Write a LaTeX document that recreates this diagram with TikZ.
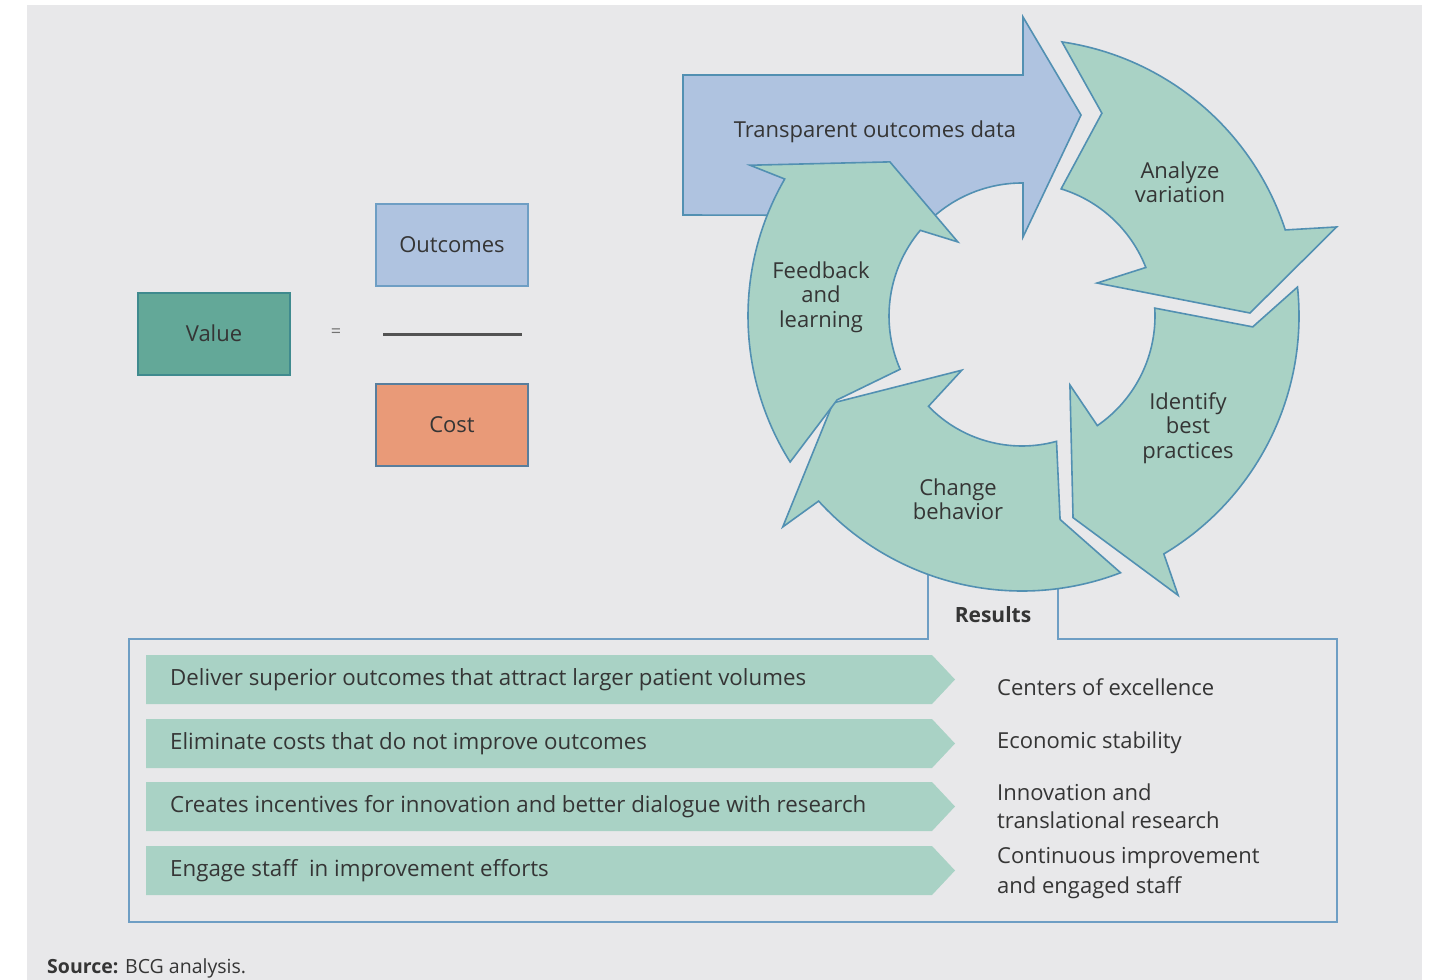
\documentclass[tikz,border=0pt]{standalone}
\usepackage{fontspec}
\setmainfont{Open Sans}
\definecolor{panel}{HTML}{E8E8EA}
\definecolor{mint}{HTML}{A9D2C5}
\definecolor{edgeblue}{HTML}{5290B2}
\definecolor{dataBlue}{HTML}{AFC3E0}
\definecolor{valueGreen}{HTML}{63A898}
\definecolor{valueEdge}{HTML}{3F8A8E}
\definecolor{costOrange}{HTML}{E99A78}
\definecolor{frameBlue}{HTML}{6E9EC4}
\definecolor{ink}{HTML}{353535}
\tikzset{
  txt/.style={text=ink, inner sep=0pt, font=\fontsize{22}{24.5}\selectfont},
  rowtxt/.style={txt, anchor=west, font=\fontsize{22.3}{24.5}\selectfont},
  cyclearrow/.style={fill=mint, draw=edgeblue, line width=1.6pt, line join=miter},
  databox/.style={fill=dataBlue, draw=edgeblue, line width=1.6pt, line join=miter},
  eqbox/.style={draw, line width=2pt, minimum width=152pt, minimum height=82pt, txt},
  rowbar/.style={fill=mint},
  frame/.style={draw=frameBlue, line width=2pt},
}
\begin{document}
\begin{tikzpicture}[x=1pt,y=-1pt]
\useasboundingbox (0,0) rectangle (1430,980);
\fill[white] (0,0) rectangle (1430,980);
\fill[panel] (27,5) rectangle (1422,980);

% value equation
\node[eqbox, fill=valueGreen, draw=valueEdge] (value) at (214,333.5) {Value};
\node[txt, font=\fontsize{18}{18}\selectfont, text=ink!70] (eq) at (336,333) {=};
\node[eqbox, fill=dataBlue, draw=frameBlue] (outcomes) at (452,245) {Outcomes};
\node[eqbox, fill=costOrange, draw=frameBlue!80!black] (cost) at (452,425) {Cost};
\coordinate (fracL) at (383,334);
\coordinate (fracR) at (522,334);
\draw[line width=3pt, draw=ink!85] (fracL) -- (fracR);

% results frame with its neck up to the cycle
\coordinate (neckL) at (928,560);
\coordinate (neckR) at (1058,560);
\draw[frame, line join=miter] (neckL) -- (928,639) -- (129,639) -- (129,922) -- (1337,922) -- (1337,639) -- (1058,639) -- (neckR);
\node[txt, font=\bfseries\fontsize{21}{24}\selectfont] (results) at (993,615) {Results};

% transparent outcomes data arrow
\draw[databox] (683,75) -- (1023,75) -- (1023,17) -- (1081,115) -- (1023,237) -- (1023,183)
  arc[start angle=-89.6, end angle=-131, radius=133] -- (683,215) -- cycle;
\node[txt] (data) at (875,132) {Transparent outcomes data};

% cycle of four curved arrows
\begin{scope}[shift={(1022,316)}]
  % analyze variation
  \draw[cyclearrow] (-81.7:277) arc[start angle=-81.7, end angle=-18.1, radius=277]
    -- (-15.8:327) -- (-0.75:228) -- (-23.7:82) -- (-21.4:133)
    arc[start angle=-21.4, end angle=-72.9, radius=133] -- (-68.5:218) -- cycle;
  % identify best practices
  \draw[cyclearrow] (-6:277) arc[start angle=-6, end angle=59.2, radius=277]
    -- (60.8:320) -- (75.8:208) -- (55.2:84) -- (55.5:133)
    arc[start angle=55.5, end angle=-3.4, radius=133] -- (2.7:231) -- cycle;
  % change behavior
  \draw[cyclearrow] (69:275) arc[start angle=69, end angle=137.7, radius=275]
    -- (138.6:319) -- (155.3:208) -- (138:81) -- (136:130)
    arc[start angle=136, end angle=74.6, radius=130] -- (79.4:207) -- cycle;
  % feedback and learning
  \draw[cyclearrow] (147.8:274) arc[start angle=147.8, end angle=210, radius=274]
    -- (209:311) -- (229.4:203) -- (229.1:98) -- (220.1:133)
    arc[start angle=220.1, end angle=156.4, radius=133] -- (155.6:203) -- cycle;
\end{scope}
\node[txt, align=center] (analyze) at (1180,182) {Analyze\\variation};
\node[txt, align=center] (identify) at (1188,428) {Identify\\best\\practices};
\node[txt, align=center] (change) at (958,499) {Change\\behavior};
\node[txt, align=center] (feedback) at (821,297) {Feedback\\and\\learning};

% result rows
\foreach \top/\name in {655/r1, 719/r2, 782/r3, 846/r4}{
  \fill[rowbar] (146,\top) -- (932,\top) -- (955,\top+24.5) -- (932,\top+49) -- (146,\top+49) -- cycle;
  \coordinate (\name) at (170,\top+24.5);
}
\node[rowtxt] (t1) at (r1) {Deliver superior outcomes that attract larger patient volumes};
\node[rowtxt] (t2) at (r2) {Eliminate costs that do not improve outcomes};
\node[rowtxt] (t3) at (r3) {Creates incentives for innovation and better dialogue with research};
\node[rowtxt] (t4) at (r4) {Engage staff\ \ in improvement efforts};

\node[txt, anchor=west] (o1) at (997,687) {Centers of excellence};
\node[txt, anchor=west] (o2) at (997,743) {Economic stability};
\node[txt, anchor=west, align=left, font=\fontsize{22}{28}\selectfont] (o3) at (997,806) {Innovation and\\translational research};
\node[txt, anchor=west, align=left, font=\fontsize{22}{30}\selectfont] (o4) at (997,873) {Continuous improvement\\and engaged staff};

% source line
\node[txt, anchor=west, font=\fontsize{19.5}{22}\selectfont] (source) at (47,968) {\textbf{Source:} BCG analysis.};
\end{tikzpicture}
\end{document}
